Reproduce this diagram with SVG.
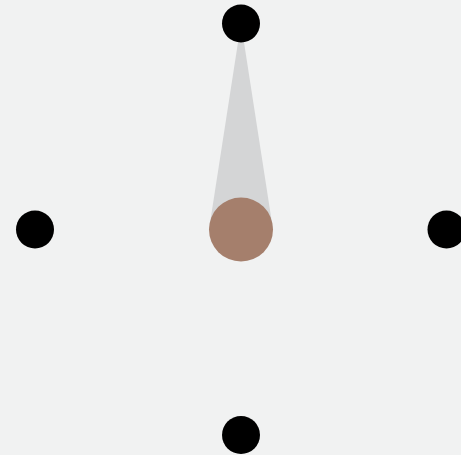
<svg xmlns="http://www.w3.org/2000/svg" width="461" height="455" viewBox="0 0 461 455">
<style>
.dot{fill:#000}
.hub{fill:#a57f6c}
.beam{fill:#d4d5d6}
</style>
<rect x="0" y="0" width="461" height="455" fill="#f1f2f2"/>
<g id="connectors">
<polygon class="beam" points="241,23 209,229.5 273,229.5"/>
</g>
<g id="node-top"><circle class="dot" cx="241" cy="23.5" r="19"/></g>
<g id="node-left"><circle class="dot" cx="35" cy="229.5" r="19"/></g>
<g id="node-right"><circle class="dot" cx="446.5" cy="229.5" r="19"/></g>
<g id="node-bottom"><circle class="dot" cx="241" cy="435" r="19"/></g>
<g id="node-center"><circle class="hub" cx="241" cy="229.5" r="32"/></g>
</svg>
